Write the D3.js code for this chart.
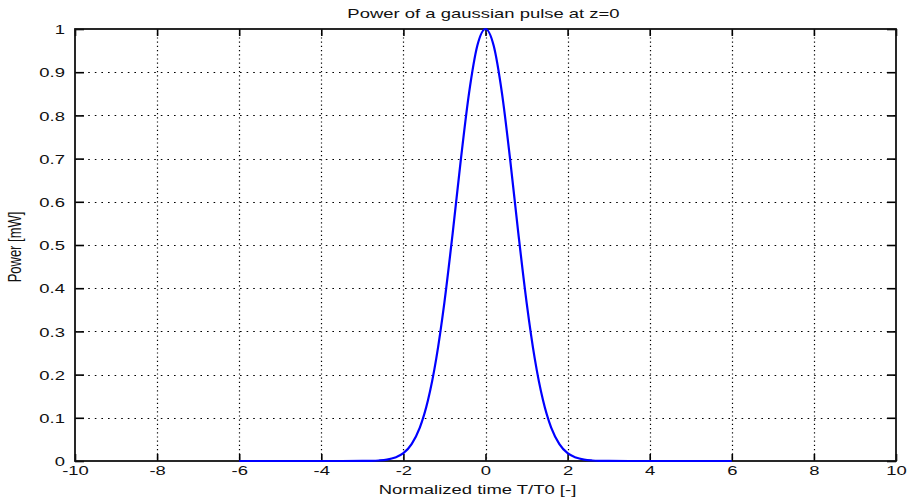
<!DOCTYPE html>
<html>
<head>
<meta charset="utf-8">
<script src="https://cdn.jsdelivr.net/npm/d3@7/dist/d3.min.js"></script>
<style>
  html, body { margin: 0; padding: 0; background: #fff; }
  svg { display: block; }
  text { font-family: "Liberation Sans", Arial, Helvetica, sans-serif; font-size: 13px; fill: #111; }
</style>
</head>
<body>
<svg id="chart" width="909" height="504"></svg>
<script>
// Normalized time samples T/T0 and the pulse power at z=0 [mW]
const timeT = [-6, -5, -4, -3, -2.8, -2.6, -2.4, -2.2, -2, -1.8, -1.6, -1.4, -1.2, -1, -0.8, -0.6, -0.4, -0.2,
  0, 0.2, 0.4, 0.6, 0.8, 1, 1.2, 1.4, 1.6, 1.8, 2, 2.2, 2.4, 2.6, 2.8, 3, 4, 5, 6];
const powerMW = [0, 0, 0, 0.0001, 0.0004, 0.0012, 0.0032, 0.008, 0.018, 0.039, 0.077, 0.141, 0.237, 0.368, 0.527, 0.698, 0.852, 0.961,
  1, 0.961, 0.852, 0.698, 0.527, 0.368, 0.237, 0.141, 0.077, 0.039, 0.018, 0.008, 0.0032, 0.0012, 0.0004, 0.0001, 0, 0, 0];

const xTicks = [-10, -8, -6, -4, -2, 0, 2, 4, 6, 8, 10];
const yTicks = [0, 0.1, 0.2, 0.3, 0.4, 0.5, 0.6, 0.7, 0.8, 0.9, 1];

const titleText = "Power of a gaussian pulse at z=0";
const xLabelText = "Normalized time T/T0 [-]";
const yLabelText = "Power [mW]";

const W = 909, H = 504;
const margin = { left: 75, right: 13, top: 29, bottom: 43 };
const iw = W - margin.left - margin.right;
const ih = H - margin.top - margin.bottom;
const SX = 1.42; // horizontal stretch of the lettering

const svg = d3.select("#chart");
const g = svg.append("g").attr("transform", `translate(${margin.left},${margin.top})`);

const x = d3.scaleLinear().domain([-10, 10]).range([0, iw]);
const y = d3.scaleLinear().domain([0, 1]).range([ih, 0]);

// dotted grid
g.append("g").selectAll("line").data(xTicks.slice(1, -1)).join("line")
  .attr("x1", d => Math.round(x(d)) + 0.5).attr("x2", d => Math.round(x(d)) + 0.5)
  .attr("y1", 0).attr("y2", ih)
  .attr("stroke", "#000").attr("stroke-width", 1.2).attr("stroke-dasharray", "1.2,3");
g.append("g").selectAll("line").data(yTicks.slice(1, -1)).join("line")
  .attr("y1", d => Math.round(y(d)) + 0.5).attr("y2", d => Math.round(y(d)) + 0.5)
  .attr("x1", 0).attr("x2", iw)
  .attr("stroke", "#000").attr("stroke-width", 1.2).attr("stroke-dasharray", "1.6,5");

// axes (ticks pointing inward, MATLAB box style)
const xBottom = g.append("g").attr("transform", `translate(0,${ih})`)
  .call(d3.axisBottom(x).tickValues(xTicks).tickSize(-7).tickPadding(0).tickFormat(d => String(d)));
const xTop = g.append("g")
  .call(d3.axisTop(x).tickValues(xTicks).tickSize(-7).tickFormat(""));
const yLeft = g.append("g")
  .call(d3.axisLeft(y).tickValues(yTicks).tickSize(-9).tickFormat(d => d === 0 || d === 1 ? String(d) : d3.format(".1f")(d)));
const yRight = g.append("g").attr("transform", `translate(${iw},0)`)
  .call(d3.axisRight(y).tickValues(yTicks).tickSize(-9).tickFormat(""));

[xBottom, xTop, yLeft, yRight].forEach(a => {
  a.select(".domain").remove();
  a.selectAll(".tick line").attr("stroke", "#000").attr("stroke-width", 1.6);
});

xBottom.selectAll(".tick text")
  .attr("y", 0).attr("dy", null)
  .attr("transform", `translate(0,14) scale(${SX},1)`)
  .attr("font-size", 13).attr("fill", "#111").attr("font-family", null);
yLeft.selectAll(".tick text")
  .attr("x", 0).attr("dy", "0.36em")
  .attr("transform", `translate(-10,0) scale(${SX},1)`)
  .attr("font-size", 13).attr("fill", "#111").attr("font-family", null);
// the zero label sits just above the "-10" below it
yLeft.filter(d => d === 0).select("text").attr("dy", "0.08em");

// axes box
g.append("rect").attr("x", 0).attr("y", 0).attr("width", iw).attr("height", ih)
  .attr("fill", "none").attr("stroke", "#111").attr("stroke-width", 1.8);

// pulse curve
const pts = timeT.map((t, i) => [t, powerMW[i]]);
g.append("path").datum(pts)
  .attr("fill", "none").attr("stroke", "#0000ff").attr("stroke-width", 2.2)
  .attr("stroke-linejoin", "round")
  .attr("d", d3.line().x(d => x(d[0])).y(d => y(d[1])).curve(d3.curveMonotoneX));

// title and axis labels
svg.append("text").attr("text-anchor", "middle")
  .attr("transform", `translate(${margin.left + iw / 2 - 2},18) scale(${SX},1)`)
  .text(titleText);
svg.append("text").attr("text-anchor", "middle")
  .attr("transform", `translate(${margin.left + iw / 2 - 8},494) scale(${SX},1)`)
  .text(xLabelText);
svg.append("text").attr("text-anchor", "middle")
  .attr("transform", `translate(21,${margin.top + ih / 2 + 2}) scale(${SX},1) rotate(-90)`)
  .text(yLabelText);
</script>
</body>
</html>
